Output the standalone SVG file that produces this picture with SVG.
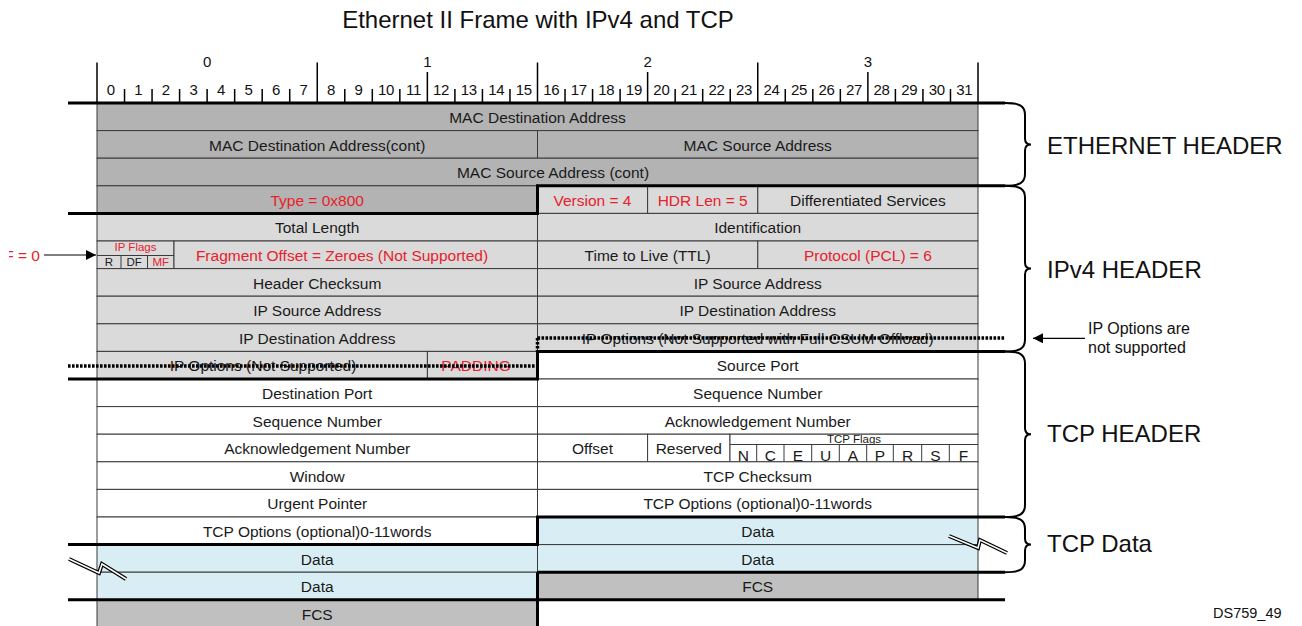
<svg xmlns="http://www.w3.org/2000/svg" width="1302" height="626" viewBox="0 0 1302 626">
<defs>
<style>
.c{stroke:#3a3a3a;stroke-width:1}
.eth{fill:#b3b3b3}.ip{fill:#dadada}.tcp{fill:#fff}.dat{fill:#d9eef4}.fcs{fill:#c0c0c0}
.t{font-family:"Liberation Sans",Arial,sans-serif;font-size:15.5px;text-anchor:middle;fill:#1a1a1a}
.s{font-size:11.5px}
.r{fill:#e8212b}
.lbl{font-family:"Liberation Sans",Arial,sans-serif;font-size:24px;fill:#111}
.rl{font-family:"Liberation Sans",Arial,sans-serif;font-size:15px;text-anchor:middle;fill:#111}
.thick{stroke:#000;stroke-width:3;fill:none}
.dot{stroke:#000;stroke-width:3.5;stroke-dasharray:2.6 1.4;fill:none}
.tick{stroke:#000;stroke-width:1.5;fill:none}
.brace{stroke:#000;stroke-width:2;fill:none}
.ln{stroke:#000;stroke-width:1.2;fill:none}
</style>
<marker id="ah" viewBox="0 0 10 10" refX="10" refY="5" markerWidth="14" markerHeight="10" markerUnits="userSpaceOnUse" orient="auto"><path d="M0,0 L10,5 L0,10 Z" fill="#000"/></marker>
<clipPath id="lc"><rect x="9" y="230" width="60" height="40"/></clipPath>
</defs>

<text x="538" y="28" font-family="Liberation Sans, Arial, sans-serif" font-size="24" text-anchor="middle" fill="#111">Ethernet II Frame with IPv4 and TCP</text>

<g id="ruler">
<path class="tick" d="M97 62.5V103M317.25 62.5V103M537.5 62.5V103M757.75 62.5V103M978 62.5V103" stroke-width="2"/>
<path class="tick" d="M427.37 72V103M647.62 72V103M867.87 72V103"/>
<path class="tick" d="M124.53 89V103M152.06 89V103M179.59 89V103M207.12 89V103M234.66 89V103M262.19 89V103M289.72 89V103M344.78 89V103M372.31 89V103M399.84 89V103M454.9 89V103M482.43 89V103M509.97 89V103M565.03 89V103M592.56 89V103M620.09 89V103M675.15 89V103M702.68 89V103M730.22 89V103M785.28 89V103M812.81 89V103M840.34 89V103M895.4 89V103M922.93 89V103M950.47 89V103"/>
<text class="rl" x="207.1" y="66.5">0</text><text class="rl" x="427.4" y="66.5">1</text><text class="rl" x="647.6" y="66.5">2</text><text class="rl" x="867.9" y="66.5">3</text>
<g class="rl" letter-spacing="-0.3">
<text x="110.8" y="95">0</text><text x="138.3" y="95">1</text><text x="165.8" y="95">2</text><text x="193.4" y="95">3</text><text x="220.9" y="95">4</text><text x="248.4" y="95">5</text><text x="276" y="95">6</text><text x="303.5" y="95">7</text><text x="331" y="95">8</text><text x="358.5" y="95">9</text><text x="386.1" y="95">10</text><text x="413.6" y="95">11</text><text x="441.1" y="95">12</text><text x="468.7" y="95">13</text><text x="496.2" y="95">14</text><text x="523.7" y="95">15</text><text x="551.3" y="95">16</text><text x="578.8" y="95">17</text><text x="606.3" y="95">18</text><text x="633.9" y="95">19</text><text x="661.4" y="95">20</text><text x="688.9" y="95">21</text><text x="716.5" y="95">22</text><text x="744" y="95">23</text><text x="771.5" y="95">24</text><text x="799" y="95">25</text><text x="826.6" y="95">26</text><text x="854.1" y="95">27</text><text x="881.6" y="95">28</text><text x="909.2" y="95">29</text><text x="936.7" y="95">30</text><text x="964.2" y="95">31</text>
</g>
</g>

<!-- Ethernet header -->
<g id="mac-dst"><rect class="c eth" x="97" y="103" width="881" height="27.6"/><text class="t" x="537.5" y="123">MAC Destination Address</text></g>
<g id="mac-dst-cont"><rect class="c eth" x="97" y="130.6" width="440.5" height="27.6"/><text class="t" x="317.2" y="150.6">MAC Destination Address(cont)</text></g>
<g id="mac-src"><rect class="c eth" x="537.5" y="130.6" width="440.5" height="27.6"/><text class="t" x="757.7" y="150.6">MAC Source Address</text></g>
<g id="mac-src-cont"><rect class="c eth" x="97" y="158.2" width="881" height="27.6"/><text class="t" x="553" y="178.2">MAC Source Address (cont)</text></g>
<g id="type"><rect class="c eth" x="97" y="185.8" width="440.5" height="27.6"/><text class="t r" x="317.2" y="205.8">Type = 0x800</text></g>

<!-- IPv4 header -->
<g id="version"><rect class="c ip" x="537.5" y="185.8" width="110.1" height="27.6"/><text class="t r" x="592.5" y="205.8">Version = 4</text></g>
<g id="hdr-len"><rect class="c ip" x="647.6" y="185.8" width="110.2" height="27.6"/><text class="t r" x="702.7" y="205.8">HDR Len = 5</text></g>
<g id="diff-serv"><rect class="c ip" x="757.8" y="185.8" width="220.2" height="27.6"/><text class="t" x="867.9" y="205.8">Differentiated Services</text></g>
<g id="total-length"><rect class="c ip" x="97" y="213.4" width="440.5" height="27.6"/><text class="t" x="317.2" y="233.4">Total Length</text></g>
<g id="identification"><rect class="c ip" x="537.5" y="213.4" width="440.5" height="27.6"/><text class="t" x="757.7" y="233.4">Identification</text></g>
<g id="ip-flags">
<rect class="c ip" x="97" y="241" width="77" height="27.6"/>
<path class="c" d="M97 255.5H174M121 255.5V268.6M147.5 255.5V268.6"/>
<text class="t s r" x="135.5" y="250.5">IP Flags</text>
<text class="t s" x="109" y="266">R</text><text class="t s" x="134.2" y="266">DF</text><text class="t s r" x="160.7" y="266">MF</text>
</g>
<g id="frag-offset"><rect class="c ip" x="174" y="241" width="363.5" height="27.6"/><text class="t r" x="342" y="261">Fragment Offset = Zeroes (Not Supported)</text></g>
<g id="ttl"><rect class="c ip" x="537.5" y="241" width="220.3" height="27.6"/><text class="t" x="647.6" y="261">Time to Live (TTL)</text></g>
<g id="protocol"><rect class="c ip" x="757.8" y="241" width="220.2" height="27.6"/><text class="t r" x="867.9" y="261">Protocol (PCL) = 6</text></g>
<g id="hdr-checksum"><rect class="c ip" x="97" y="268.6" width="440.5" height="27.6"/><text class="t" x="317.2" y="288.6">Header Checksum</text></g>
<g id="ip-src-1"><rect class="c ip" x="537.5" y="268.6" width="440.5" height="27.6"/><text class="t" x="757.7" y="288.6">IP Source Address</text></g>
<g id="ip-src-2"><rect class="c ip" x="97" y="296.2" width="440.5" height="27.6"/><text class="t" x="317.2" y="316.2">IP Source Address</text></g>
<g id="ip-dst-1"><rect class="c ip" x="537.5" y="296.2" width="440.5" height="27.6"/><text class="t" x="757.7" y="316.2">IP Destination Address</text></g>
<g id="ip-dst-2"><rect class="c ip" x="97" y="323.8" width="440.5" height="27.6"/><text class="t" x="317.2" y="343.8">IP Destination Address</text></g>
<g id="ip-options-r"><rect class="c ip" x="537.5" y="323.8" width="440.5" height="27.6"/><text class="t" x="757.7" y="343.8">IP Options (Not Supported with Full CSUM Offload)</text></g>
<g id="ip-options-l"><rect class="c ip" x="97" y="351.4" width="330.4" height="27.6"/><text class="t" x="263" y="371.4">IP Options (Not Supported)</text></g>
<g id="padding"><rect class="c ip" x="427.4" y="351.4" width="110.1" height="27.6"/><text class="t r" x="476" y="371.4">PADDING</text></g>

<!-- TCP header -->
<g id="src-port"><rect class="c tcp" x="537.5" y="351.4" width="440.5" height="27.6"/><text class="t" x="757.7" y="371.4">Source Port</text></g>
<g id="dst-port"><rect class="c tcp" x="97" y="379" width="440.5" height="27.6"/><text class="t" x="317.2" y="399">Destination Port</text></g>
<g id="seq-1"><rect class="c tcp" x="537.5" y="379" width="440.5" height="27.6"/><text class="t" x="757.7" y="399">Sequence Number</text></g>
<g id="seq-2"><rect class="c tcp" x="97" y="406.6" width="440.5" height="27.6"/><text class="t" x="317.2" y="426.6">Sequence Number</text></g>
<g id="ack-1"><rect class="c tcp" x="537.5" y="406.6" width="440.5" height="27.6"/><text class="t" x="757.7" y="426.6">Acknowledgement Number</text></g>
<g id="ack-2"><rect class="c tcp" x="97" y="434.2" width="440.5" height="27.6"/><text class="t" x="317.2" y="454.2">Acknowledgement Number</text></g>
<g id="offset"><rect class="c tcp" x="537.5" y="434.2" width="110.1" height="27.6"/><text class="t" x="592.5" y="454.2">Offset</text></g>
<g id="reserved"><rect class="c tcp" x="647.6" y="434.2" width="82.4" height="27.6"/><text class="t" x="688.8" y="454.2">Reserved</text></g>
<g id="tcp-flags">
<rect class="c tcp" x="730" y="434.2" width="248" height="27.6"/>
<path class="c" d="M730 444.5H978M756.7 444.5V461.8M784 444.5V461.8M811.7 444.5V461.8M839.3 444.5V461.8M866.7 444.5V461.8M893.3 444.5V461.8M921.7 444.5V461.8M949.3 444.5V461.8"/>
<text class="t s" x="854" y="442.5">TCP Flags</text>
<g class="t" font-size="11"><text x="743.3" y="460.5">N</text><text x="770.3" y="460.5">C</text><text x="797.8" y="460.5">E</text><text x="825.5" y="460.5">U</text><text x="853" y="460.5">A</text><text x="880" y="460.5">P</text><text x="907.5" y="460.5">R</text><text x="935.5" y="460.5">S</text><text x="963.6" y="460.5">F</text></g>
</g>
<g id="window"><rect class="c tcp" x="97" y="461.8" width="440.5" height="27.6"/><text class="t" x="317.2" y="481.8">Window</text></g>
<g id="tcp-checksum"><rect class="c tcp" x="537.5" y="461.8" width="440.5" height="27.6"/><text class="t" x="757.7" y="481.8">TCP Checksum</text></g>
<g id="urgent"><rect class="c tcp" x="97" y="489.4" width="440.5" height="27.6"/><text class="t" x="317.2" y="509.4">Urgent Pointer</text></g>
<g id="tcp-opt-1"><rect class="c tcp" x="537.5" y="489.4" width="440.5" height="27.6"/><text class="t" x="757.7" y="509.4">TCP Options (optional)0-11words</text></g>
<g id="tcp-opt-2"><rect class="c tcp" x="97" y="517" width="440.5" height="27.6"/><text class="t" x="317.2" y="537">TCP Options (optional)0-11words</text></g>

<!-- Data / FCS -->
<g id="data-r1"><rect class="c dat" x="537.5" y="517" width="440.5" height="27.6"/><text class="t" x="757.7" y="537">Data</text></g>
<g id="data-l1"><rect class="c dat" x="97" y="544.6" width="440.5" height="27.6"/><text class="t" x="317.2" y="564.6">Data</text></g>
<g id="data-r2"><rect class="c dat" x="537.5" y="544.6" width="440.5" height="27.6"/><text class="t" x="757.7" y="564.6">Data</text></g>
<g id="data-l2"><rect class="c dat" x="97" y="572.2" width="440.5" height="27.6"/><text class="t" x="317.2" y="592.2">Data</text></g>
<g id="fcs-r"><rect class="c fcs" x="537.5" y="572.2" width="440.5" height="27.6"/><text class="t" x="757.7" y="592.2">FCS</text></g>
<g id="fcs-l"><rect class="c fcs" x="97" y="599.8" width="440.5" height="32"/><text class="t" x="317.2" y="619.8">FCS</text></g>

<g id="boundaries">
<path class="dot" d="M537.5 338H1005M68 366H537.5M537.5 338V351.4"/>
<path class="thick" d="M68 103H1005"/>
<path class="thick" d="M68 213.4H537.5V185.8H1005"/>
<path class="thick" d="M68 379H537.5V351.4H1005"/>
<path class="thick" d="M68 544.6H537.5V517H1005"/>
<path class="thick" d="M537.5 572.2H1005M68 599.8H1005M537.5 572.2V626"/>
</g>

<g id="breaks">
<polyline points="69,559 99,573 102,564 126,579" fill="none" stroke="#000" stroke-width="4"/>
<polyline points="69,559 99,573 102,564 126,579" fill="none" stroke="#fff" stroke-width="1.5"/>
<polyline points="949,536 978,548 980,540 1007,553" fill="none" stroke="#000" stroke-width="4"/>
<polyline points="949,536 978,548 980,540 1007,553" fill="none" stroke="#fff" stroke-width="1.5"/>
</g>

<g id="braces">
<path class="brace" d="M1005 103C1020 103 1025 106 1025 115V138.4C1025 142.4 1027 144.4 1031 144.4C1027 144.4 1025 146.4 1025 150.4V173.8C1025 182.8 1020 185.8 1005 185.8"/>
<path class="brace" d="M1005 185.8C1020 185.8 1025 188.8 1025 197.8V262.6C1025 266.6 1027 268.6 1031 268.6C1027 268.6 1025 270.6 1025 274.6V339.4C1025 348.4 1020 351.4 1005 351.4"/>
<path class="brace" d="M1005 351.4C1020 351.4 1025 354.4 1025 363.4V428.2C1025 432.2 1027 434.2 1031 434.2C1027 434.2 1025 436.2 1025 440.2V505C1025 514 1020 517 1005 517"/>
<path class="brace" d="M1005 517C1020 517 1025 520 1025 529V538.6C1025 542.6 1027 544.6 1031 544.6C1027 544.6 1025 546.6 1025 550.6V560.2C1025 569.2 1020 572.2 1005 572.2"/>
</g>

<g id="section-labels">
<text class="lbl" x="1047" y="154">ETHERNET HEADER</text>
<text class="lbl" x="1047" y="277.5">IPv4 HEADER</text>
<text class="lbl" x="1047" y="441.5">TCP HEADER</text>
<text class="lbl" x="1047" y="551.5">TCP Data</text>
</g>

<g id="note-ip-options">
<text font-family="Liberation Sans, Arial, sans-serif" font-size="16" fill="#111" x="1088" y="333.5">IP Options are</text>
<text font-family="Liberation Sans, Arial, sans-serif" font-size="16" fill="#111" x="1088" y="353">not supported</text>
</g>
<g id="note-flag">
<text clip-path="url(#lc)" font-family="Liberation Sans, Arial, sans-serif" font-size="15.5" fill="#e8212b" text-anchor="end" x="40" y="260.5">F = 0</text>
</g>

<g id="connectors">
<line class="ln" x1="1085" y1="338.3" x2="1033" y2="338.3" marker-end="url(#ah)"/>
<line class="ln" x1="44" y1="255" x2="96" y2="255" marker-end="url(#ah)"/>
</g>

<text font-family="Liberation Sans, Arial, sans-serif" font-size="14.5" fill="#111" x="1213" y="618">DS759_49</text>
</svg>
